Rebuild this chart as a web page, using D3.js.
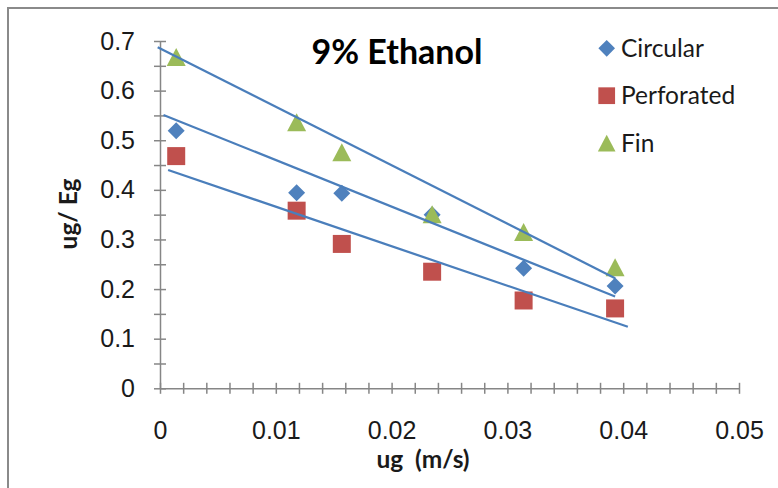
<!DOCTYPE html>
<html>
<head>
<meta charset="utf-8">
<script src="https://cdn.jsdelivr.net/npm/d3@7"></script>
<style>
  html, body { margin: 0; padding: 0; background: #fff; }
  svg { display: block; font-family: Lato, "Open Sans", sans-serif; }
  .ticklbl { font-size: 25px; fill: #1a1a1a; }
</style>
</head>
<body>
<svg id="chart" width="778" height="488"></svg>
<script>
// Superficial gas velocity (m/s) for each measurement
const ugValues   = [0.0014, 0.0118, 0.0157, 0.0235, 0.0314, 0.0393];
// ug/Eg for each sparger type
const circular   = [0.519, 0.394, 0.393, 0.350, 0.242, 0.206];
const perforated = [0.468, 0.358, 0.291, 0.235, 0.177, 0.161];
const fin        = [0.668, 0.536, 0.476, 0.351, 0.315, 0.244];
// Linear trend lines: [start, end] as [ug, ug/Eg]
const trendCircular   = [[0.0003, 0.551], [0.0393, 0.185]];
const trendPerforated = [[0.0007, 0.440], [0.0404, 0.124]];
const trendFin        = [[-0.0002, 0.6875], [0.0393, 0.222]];
// Axis ticks
const yTicks = [0, 0.1, 0.2, 0.3, 0.4, 0.5, 0.6, 0.7];
const yTickLabels = ["0", "0.1", "0.2", "0.3", "0.4", "0.5", "0.6", "0.7"];
const yMinorTicks = [0, 0.05, 0.1, 0.15, 0.2, 0.25, 0.3, 0.35, 0.4, 0.45, 0.5, 0.55, 0.6, 0.65, 0.7];
const xTicks = [0, 0.01, 0.02, 0.03, 0.04, 0.05];
const xTickLabels = ["0", "0.01", "0.02", "0.03", "0.04", "0.05"];
const xMinorTicks = d3.range(0, 26).map(i => i * 0.002);

const seriesNames = ["Circular", "Perforated", "Fin"];
const seriesColors = ["#4F81BD", "#C0504D", "#9BBB59"];
const seriesShapes = ["diamond", "square", "triangle"];
const series = [
  { name: seriesNames[0], values: circular,   trend: trendCircular,   color: seriesColors[0], shape: seriesShapes[0] },
  { name: seriesNames[1], values: perforated, trend: trendPerforated, color: seriesColors[1], shape: seriesShapes[1] },
  { name: seriesNames[2], values: fin,        trend: trendFin,        color: seriesColors[2], shape: seriesShapes[2] }
];

const svg = d3.select("#chart");

// Chart frame
svg.append("rect")
  .attr("x", 8).attr("y", 8).attr("width", 820).attr("height", 520)
  .attr("fill", "#fff").attr("stroke", "#8a8a8a").attr("stroke-width", 2);

const x = d3.scaleLinear().domain([0, 0.05]).range([160, 739]);
const y = d3.scaleLinear().domain([0, 0.7]).range([388.3, 41]);

const axisColor = "#868686";

// Y axis: crossing tick marks
const gy = svg.append("g").attr("transform", `translate(${x(0)},0)`)
  .call(d3.axisLeft(y).tickValues(yMinorTicks).tickFormat("").tickSizeOuter(0));
gy.selectAll(".tick line").attr("x1", 6).attr("x2", -6);
gy.selectAll("path, line").attr("stroke", axisColor).attr("stroke-width", 1.5);

// Y axis labels
const gyl = svg.append("g").attr("transform", `translate(${x(0)},0)`)
  .call(d3.axisLeft(y).tickValues(yTicks).tickSize(0).tickPadding(25)
    .tickFormat((d, i) => yTickLabels[i]));
gyl.select(".domain").remove();
gyl.selectAll("text").attr("class", "ticklbl").attr("font-family", null).attr("font-size", null);

// X axis: crossing tick marks
const gx = svg.append("g").attr("transform", `translate(0,${y(0)})`)
  .call(d3.axisBottom(x).tickValues(xMinorTicks).tickFormat("").tickSizeOuter(0));
gx.selectAll(".tick line").attr("y1", -5.5).attr("y2", 5.5);
gx.selectAll("path, line").attr("stroke", axisColor).attr("stroke-width", 1.5);

// X axis labels
const gxl = svg.append("g").attr("transform", `translate(0,${y(0)})`)
  .call(d3.axisBottom(x).tickValues(xTicks).tickSize(0)
    .tickFormat((d, i) => xTickLabels[i]));
gxl.select(".domain").remove();
gxl.selectAll("text").attr("class", "ticklbl").attr("font-family", null).attr("font-size", null)
  .attr("y", 51).attr("dy", 0);

// Marker paths centred on the origin
function markerPath(shape) {
  const p = d3.path();
  if (shape === "diamond") {
    const r = 8.5;
    p.moveTo(0, -r); p.lineTo(r, 0); p.lineTo(0, r); p.lineTo(-r, 0); p.closePath();
  } else if (shape === "square") {
    const r = 9;
    p.rect(-r, -r, 2 * r, 2 * r);
  } else {
    const w = 9.5, h = 9;
    p.moveTo(0, -h); p.lineTo(w, h); p.lineTo(-w, h); p.closePath();
  }
  return p.toString();
}

// Data markers
const gm = svg.append("g");
series.forEach(s => {
  gm.append("g").selectAll("path")
    .data(s.values.map((v, i) => [ugValues[i], v]))
    .join("path")
    .attr("d", markerPath(s.shape))
    .attr("transform", d => `translate(${x(d[0])},${y(d[1])})`)
    .attr("fill", s.color);
});

// Trend lines
const line = d3.line().x(d => x(d[0])).y(d => y(d[1]));
svg.append("g").selectAll("path")
  .data(series)
  .join("path")
  .attr("d", s => line(s.trend))
  .attr("fill", "none")
  .attr("stroke", "#4A7EBB")
  .attr("stroke-width", 2.25);

// Title
svg.append("text")
  .attr("x", 397).attr("y", 64.3)
  .attr("text-anchor", "middle")
  .attr("font-weight", "bold")
  .attr("font-size", 34)
  .attr("fill", "#000")
  .text("9% Ethanol");

// Axis titles
svg.append("text")
  .attr("x", 423).attr("y", 468)
  .attr("text-anchor", "middle")
  .attr("font-weight", "bold")
  .attr("font-size", 24.5)
  .style("white-space", "pre")
  .attr("fill", "#1a1a1a")
  .text("ug  (m/s)");

svg.append("text")
  .attr("transform", "translate(77,214) rotate(-90)")
  .attr("text-anchor", "middle")
  .attr("font-weight", "bold")
  .attr("font-size", 24.5)
  .style("white-space", "pre")
  .attr("fill", "#1a1a1a")
  .text("ug/ Eg");

// Legend
const legend = svg.append("g").attr("transform", "translate(606.7,48.3)");
const rows = legend.selectAll("g").data(series).join("g")
  .attr("transform", (d, i) => `translate(0,${i * 47.4})`);
rows.append("path")
  .attr("d", d => markerPath(d.shape))
  .attr("transform", d => d.shape === "diamond" ? "scale(0.98)" : "scale(0.93)")
  .attr("fill", d => d.color);
rows.append("text")
  .attr("x", 14.3).attr("y", 8.6)
  .attr("font-size", 24.5)
  .attr("fill", "#1a1a1a")
  .text(d => d.name);
</script>
</body>
</html>
